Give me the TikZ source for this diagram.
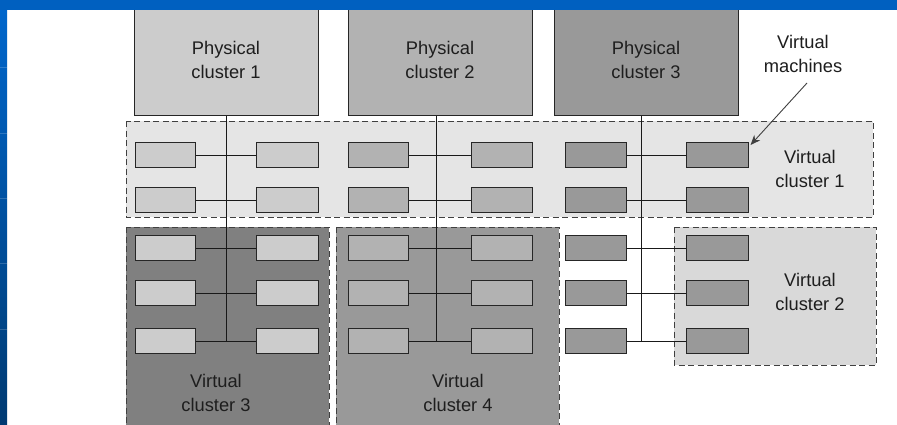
\documentclass[tikz,border=0pt]{standalone}
\usepackage{fontspec}
\setmainfont{Liberation Sans}
\usetikzlibrary{arrows.meta}
\definecolor{bandblue}{HTML}{0060C0}
\definecolor{bandtop}{HTML}{0066CC}
\definecolor{bandbot}{HTML}{003A72}
\definecolor{txt}{HTML}{1E1E1E}
\tikzset{
  lbl/.style={align=center, text=txt, font=\fontsize{18.3}{23.5}\selectfont, inner sep=0pt},
  phys/.style={draw=black!85, line width=1pt, minimum width=184pt, minimum height=115pt, inner sep=0pt},
  vc/.style={draw=black!75, line width=1pt, dash pattern=on 6pt off 3.5pt},
  vm/.style={draw=black!85, line width=1pt, minimum width=60pt, minimum height=25pt, inner sep=0pt},
  wire/.style={draw=black!90, line width=1pt},
}
\begin{document}
\begin{tikzpicture}[x=1pt, y=-1pt]
\useasboundingbox (0,0) rectangle (897,424);
\fill[white] (0,0) rectangle (897,424);

% virtual cluster frames
\filldraw[vc, fill=black!10] (126,121) rectangle (873,217);
\filldraw[vc, fill=black!50] (126,227) rectangle (329,430);
\filldraw[vc, fill=black!40] (336,227) rectangle (559,430);
\filldraw[vc, fill=black!15] (674,227) rectangle (876,365);

% physical clusters
\node[phys, fill=black!20] (p1) at (226,57.5) {};
\node[phys, fill=black!30] (p2) at (440,57.5) {};
\node[phys, fill=black!40] (p3) at (646,57.5) {};
\node[lbl] (p1t) at (226,60) {Physical\\cluster 1};
\node[lbl] (p2t) at (440,60) {Physical\\cluster 2};
\node[lbl] (p3t) at (646,60) {Physical\\cluster 3};

% virtual machines in three columns, five rows
\foreach \r/\y in {1/155,2/200,3/248,4/293,5/341}{
  \node[vm, fill=black!20] (a\r l) at (165,\y) {};
  \node[vm, fill=black!20, minimum width=62pt] (a\r r) at (287,\y) {};
  \node[vm, fill=black!30] (b\r l) at (378,\y) {};
  \node[vm, fill=black!30, minimum width=61pt] (b\r r) at (501.5,\y) {};
  \node[vm, fill=black!40, minimum width=61pt] (c\r l) at (595.5,\y) {};
  \node[vm, fill=black!40, minimum width=62pt] (c\r r) at (717,\y) {};
  \draw[wire] (a\r l.east) -- (a\r r.west);
  \draw[wire] (b\r l.east) -- (b\r r.west);
  \draw[wire] (c\r l.east) -- (c\r r.west);
}

% trunks from each physical cluster down to the last row
\coordinate (j1) at (226,341);
\coordinate (j2) at (436,341);
\coordinate (j3) at (641,341);
\draw[wire] (p1.south -| j1) -- (j1);
\draw[wire] (p2.south -| j2) -- (j2);
\draw[wire] (p3.south -| j3) -- (j3);

% cluster labels
\node[lbl] (vc1) at (810,169) {Virtual\\cluster 1};
\node[lbl] (vc2) at (810,292) {Virtual\\cluster 2};
\node[lbl] (vc3) at (216,393) {Virtual\\cluster 3};
\node[lbl] (vc4) at (458,393) {Virtual\\cluster 4};
\node[lbl] (vmt) at (803,54) {Virtual\\machines};
\coordinate (vmtail) at (807,83);
\draw[black!75, line width=0.9pt, -{Stealth[length=10pt,width=8pt]}] (vmtail) -- ([shift={(2pt,-3pt)}]c1r.north east);

% slide frame
\fill[bandblue] (0,0) rectangle (897,10);
\shade[top color=bandtop, bottom color=bandbot] (0,10) rectangle (7,424);
\fill[bandblue] (0,0) rectangle (7,10);
\foreach \y in {67,133,198,263,329}
  \draw[white, opacity=0.18, line width=0.8pt] (0,\y) -- (7,\y);
\end{tikzpicture}
\end{document}
